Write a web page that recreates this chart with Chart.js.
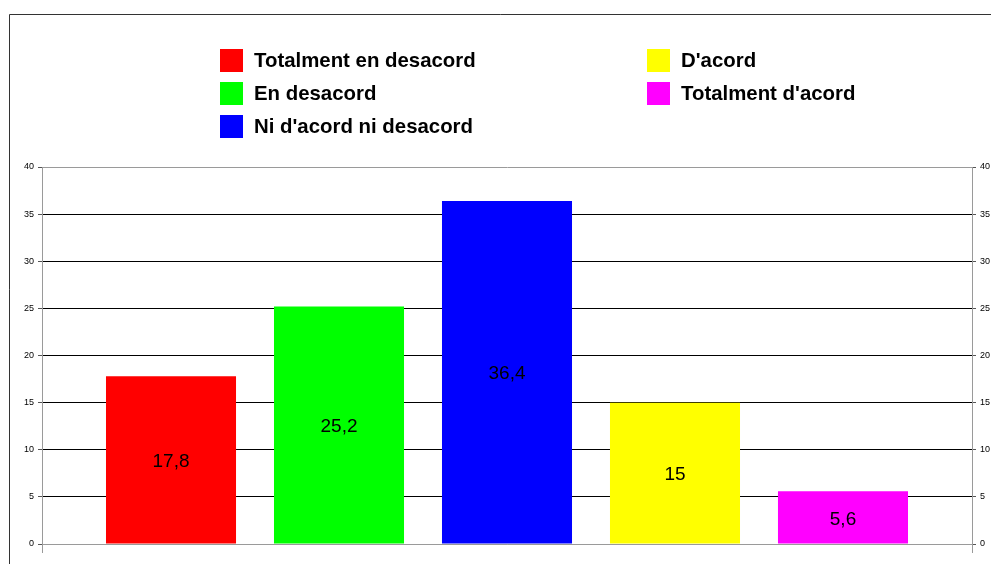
<!DOCTYPE html>
<html>
<head>
<meta charset="utf-8">
<script src="https://cdn.jsdelivr.net/npm/chart.js@4.4.0/dist/chart.umd.min.js"></script>
<style>
  html, body { margin: 0; padding: 0; background: #fff; }
  #wrap { position: relative; width: 991px; height: 564px; overflow: hidden; background: #fff; }
  #c { position: absolute; left: 0; top: 0; }
  .lg { position: absolute; display: flex; align-items: center; height: 23px;
        font-family: "Liberation Sans", Arial, sans-serif; font-weight: bold; font-size: 20.4px; color: #000; white-space: nowrap; }
  .lg .box { width: 23px; height: 23px; margin-right: 11px; flex: none; }
</style>
</head>
<body>
<div id="wrap">
  <canvas id="c" width="991" height="564"></canvas>
</div>
<script>
const categories = [''];
const seriesLabels = ['Totalment en desacord', 'En desacord', "Ni d'acord ni desacord", "D'acord", "Totalment d'acord"];
const seriesValues = [17.8, 25.2, 36.4, 15, 5.6];
const seriesColors = ['#ff0000', '#00ff00', '#0000ff', '#ffff00', '#ff00ff'];
const yTickValues = [0, 5, 10, 15, 20, 25, 30, 35, 40];

// HTML legend (two columns)
const wrap = document.getElementById('wrap');
const legendCols = [220, 647];
const legendRows = [49, 82, 115];
seriesLabels.forEach((lab, i) => {
  const col = i < 3 ? 0 : 1;
  const row = i < 3 ? i : i - 3;
  const d = document.createElement('div');
  d.className = 'lg';
  d.style.left = legendCols[col] + 'px';
  d.style.top = legendRows[row] + 'px';
  const b = document.createElement('span');
  b.className = 'box';
  b.style.background = seriesColors[i];
  const t = document.createElement('span');
  t.textContent = lab;
  d.appendChild(b); d.appendChild(t);
  wrap.appendChild(d);
});

const frame = {
  id: 'frame',
  beforeDraw(chart) {
    const ctx = chart.ctx;
    ctx.save();
    ctx.fillStyle = '#fff';
    ctx.fillRect(0, 0, chart.width, chart.height);
    ctx.strokeStyle = '#333';
    ctx.lineWidth = 1;
    ctx.beginPath();
    ctx.moveTo(9.5, chart.height);
    ctx.lineTo(9.5, 14.5);
    ctx.lineTo(chart.width, 14.5);
    ctx.stroke();
    ctx.restore();
  }
};

const valueLabels = {
  id: 'valueLabels',
  afterDatasetsDraw(chart) {
    const ctx = chart.ctx;
    ctx.save();
    ctx.font = '19px "Liberation Sans", Arial, sans-serif';
    ctx.fillStyle = '#000';
    ctx.textAlign = 'center';
    ctx.textBaseline = 'middle';
    chart.data.datasets.forEach((ds, i) => {
      const meta = chart.getDatasetMeta(i);
      meta.data.forEach((el, j) => {
        const v = ds.data[j];
        const txt = String(v).replace('.', ',');
        ctx.fillText(txt, el.x, (el.y + el.base) / 2 + 2);
      });
    });
    ctx.restore();
  }
};

const gridColor = (ctx) => {
  const v = ctx.tick ? ctx.tick.value : null;
  return (v === 0 || v === 40) ? '#9a9a9a' : '#000';
};

new Chart(document.getElementById('c'), {
  type: 'bar',
  data: {
    labels: categories,
    datasets: seriesLabels.map((lab, i) => ({
      label: lab,
      data: [seriesValues[i]],
      backgroundColor: seriesColors[i],
      borderWidth: 0,
      categoryPercentage: 0.9032,
      barPercentage: 0.774
    }))
  },
  options: {
    responsive: false,
    animation: false,
    events: [],
    layout: { padding: { top: 167, left: 0, right: 0, bottom: 0 } },
    plugins: { legend: { display: false }, tooltip: { enabled: false } },
    scales: {
      x: {
        offset: true,
        grid: { offset: true, drawOnChartArea: false, tickLength: 9, color: '#9a9a9a' },
        border: { display: true, color: '#9a9a9a' },
        ticks: { callback: () => '' },
        afterFit(s) { s.height = 20; }
      },
      y: {
        min: 0, max: 40,
        afterBuildTicks(s) { s.ticks = yTickValues.map(v => ({ value: v })); },
        ticks: { stepSize: 5, padding: 4, color: '#000', font: { family: '"Liberation Sans", Arial, sans-serif', size: 9 } },
        grid: { color: gridColor, tickLength: 4, tickColor: '#555' },
        border: { display: true, color: '#9a9a9a' },
        afterFit(s) { s.width = 42; }
      },
      y2: {
        position: 'right',
        min: 0, max: 40,
        afterBuildTicks(s) { s.ticks = yTickValues.map(v => ({ value: v })); },
        ticks: { stepSize: 5, padding: 4, color: '#000', font: { family: '"Liberation Sans", Arial, sans-serif', size: 9 } },
        grid: { drawOnChartArea: false, tickLength: 4, color: '#555' },
        border: { display: true, color: '#9a9a9a' },
        afterFit(s) { s.width = 19; }
      }
    }
  },
  plugins: [frame, valueLabels]
});
</script>
</body>
</html>
